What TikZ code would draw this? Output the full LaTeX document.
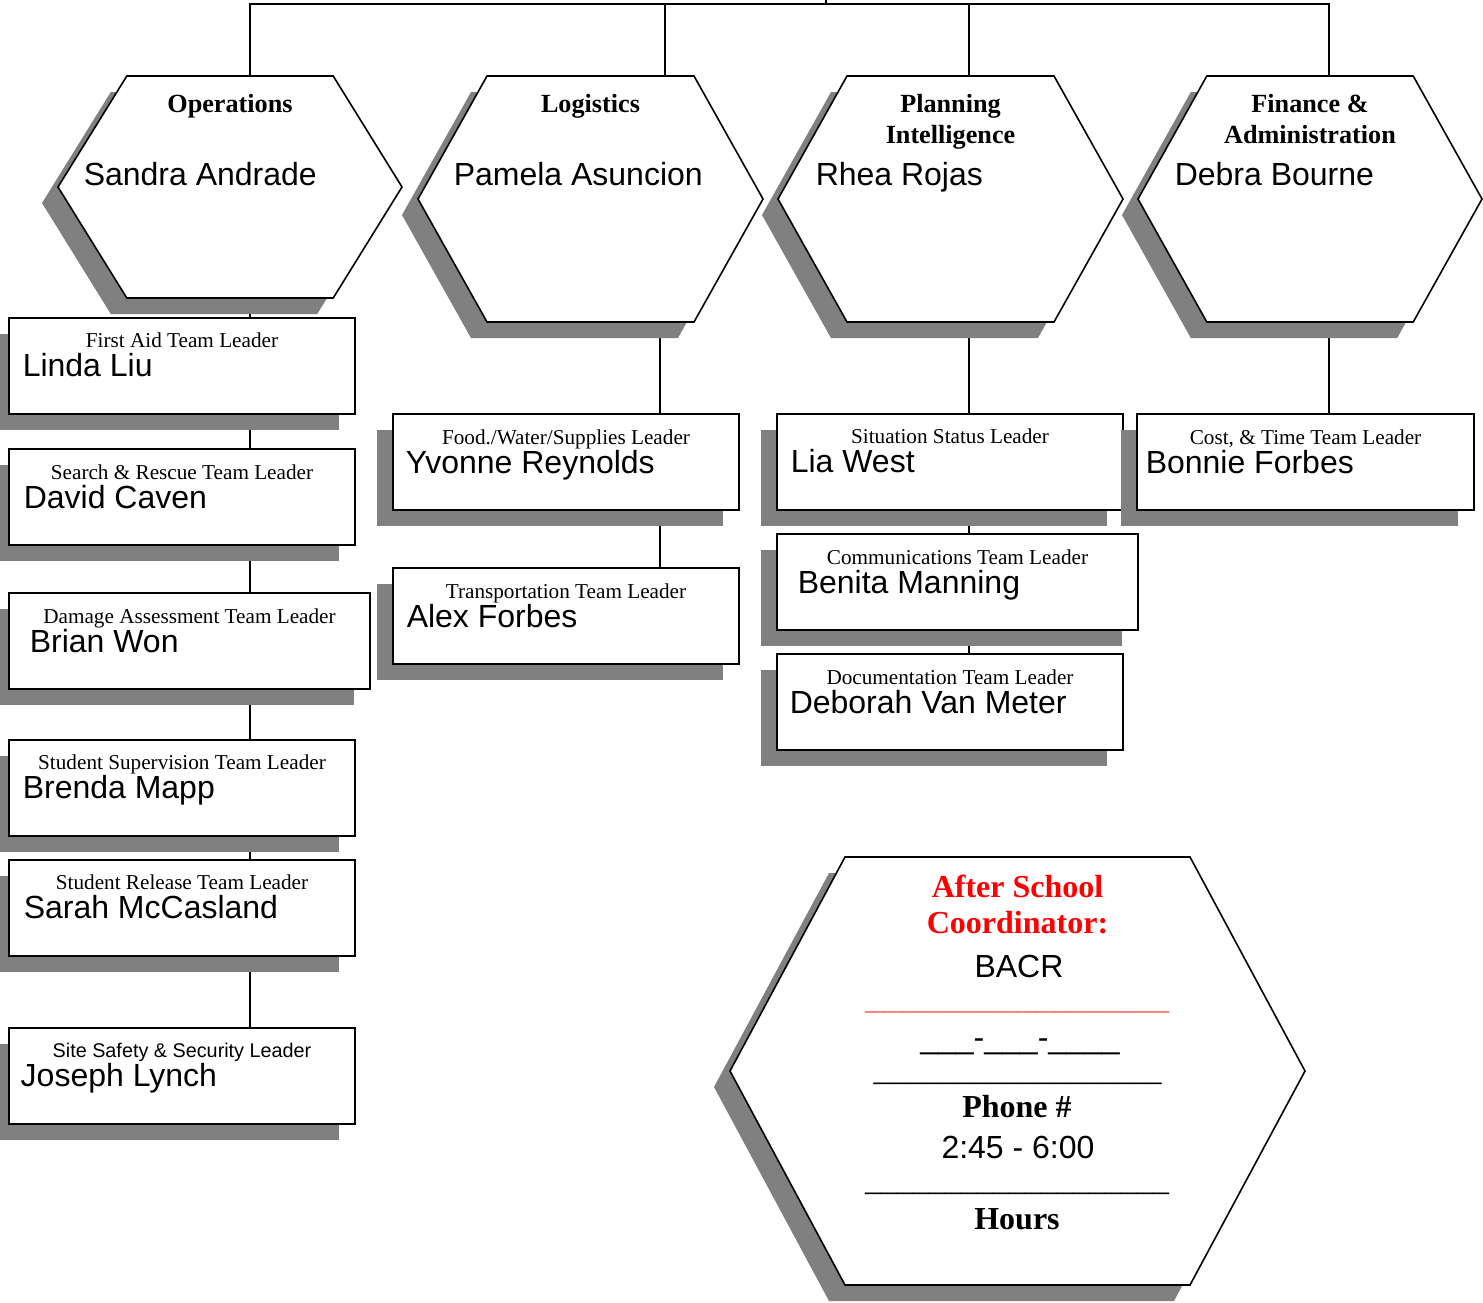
\documentclass[tikz,border=0pt]{standalone}
\usepackage{fontspec}
\setmainfont{Liberation Serif}
\newfontfamily\arialfont{Liberation Sans}
\usetikzlibrary{calc,shadows,backgrounds}

\definecolor{shadegray}{RGB}{128,128,128}
\definecolor{ascred}{RGB}{255,0,0}

\newcommand{\personfont}{\arialfont\fontsize{16}{19}\selectfont}
\newcommand{\rolefont}{\fontsize{10.6}{12.7}\selectfont}
\newcommand{\secfont}{\bfseries\fontsize{13.1}{15.5}\selectfont}
\newcommand{\bigbold}{\bfseries\fontsize{16}{19}\selectfont}
\newcommand{\blanks}[1]{\foreach \i in {1,...,#1}{\_}}

\tikzset{every picture/.style={line width=0.75pt}}
\tikzset{
  grayshadow/.style={drop shadow={shadow xshift=-8pt, shadow yshift=-8pt, fill=shadegray, opacity=1}},
  hexarea/.style={inner sep=0pt, outer sep=0pt},
  hexline/.style={draw=black, fill=white, line width=0.8pt, grayshadow},
  leaderbox/.style={draw=black, fill=white, line width=1pt, inner sep=0pt, outer sep=0pt, minimum height=48pt, grayshadow},
  rolelabel/.style={inner sep=0pt, anchor=base, font=\rolefont},
  personlabel/.style={inner sep=0pt, anchor=base west, font=\personfont},
  txt/.style={inner sep=0pt, anchor=base},
  link/.style={draw=black, line width=0.75pt},
}

% hexagon drawn over the frame of a named node
\newcommand{\hexframe}[1]{%
  \path[hexline] (#1.west) -- ($(#1.north west)!.2!(#1.north east)$) -- ($(#1.north west)!.8!(#1.north east)$) -- (#1.east) -- ($(#1.south west)!.8!(#1.south east)$) -- ($(#1.south west)!.2!(#1.south east)$) -- cycle;}

% team leader box: [role font] name, position, width, role, person, indent
\newcommand{\leader}[7][]{%
  \node[leaderbox, minimum width=#4] (#2) at #3 {};
  \node[rolelabel, #1] (#2-role) at ([yshift=-15pt]#2.north) {#5};
  \node[personlabel] (#2-name) at ([shift={(#7,-29.5pt)}]#2.north west) {#6};}

\begin{document}
\begin{tikzpicture}[x=0.5pt,y=-0.5pt]
\useasboundingbox (0,0) rectangle (1483,1302);

%Sections
\node[hexarea, minimum width=172pt, minimum height=111pt] (ops) at (230,187) {};
\hexframe{ops}
\node[txt, font=\secfont] (ops-title) at ([yshift=-18pt]ops.north) {Operations};
\node[personlabel] (ops-name) at ([shift={(12.5pt,-54.5pt)}]ops.north west) {Sandra Andrade};

\node[hexarea, minimum width=172.5pt, minimum height=123pt] (log) at (590.5,199) {};
\hexframe{log}
\node[txt, font=\secfont] (log-title) at ([yshift=-18pt]log.north) {Logistics};
\node[personlabel] (log-name) at ([shift={(17.5pt,-54.5pt)}]log.north west) {Pamela Asuncion};

\node[hexarea, minimum width=172.5pt, minimum height=123pt] (plan) at (950.5,199) {};
\hexframe{plan}
\node[txt, font=\secfont] (plan-title) at ([yshift=-18pt]plan.north) {Planning};
\node[txt, font=\secfont] (plan-title2) at ([yshift=-33.5pt]plan.north) {Intelligence};
\node[personlabel] (plan-name) at ([shift={(18.5pt,-54.5pt)}]plan.north west) {Rhea Rojas};

\node[hexarea, minimum width=172pt, minimum height=123pt] (fin) at (1310,199) {};
\hexframe{fin}
\node[txt, font=\secfont] (fin-title) at ([yshift=-18pt]fin.north) {Finance \&};
\node[txt, font=\secfont] (fin-title2) at ([yshift=-33.5pt]fin.north) {Administration};
\node[personlabel] (fin-name) at ([shift={(18pt,-54.5pt)}]fin.north west) {Debra Bourne};

%Team leaders
\leader{aid}{(182,365.5)}{173pt}{First Aid Team Leader}{Linda Liu}{6.5pt}
\leader{rescue}{(182,497)}{173pt}{Search \& Rescue Team Leader}{David Caven}{7pt}
\leader{damage}{(189.5,641)}{180.5pt}{Damage Assessment Team Leader}{Brian Won}{10pt}
\leader{superv}{(182,787.5)}{173pt}{Student Supervision Team Leader}{Brenda Mapp}{6.5pt}
\leader{release}{(182,907.5)}{173pt}{Student Release Team Leader}{Sarah McCasland}{7pt}
\leader[font=\arialfont\fontsize{9.9}{12}\selectfont]{safety}{(182,1075.5)}{173pt}{Site Safety \& Security Leader}{Joseph Lynch}{5.5pt}

\leader{food}{(566,462)}{173pt}{Food./Water/Supplies Leader}{Yvonne Reynolds}{6pt}
\leader{trans}{(566,616)}{173pt}{Transportation Team Leader}{Alex Forbes}{6.5pt}

\leader{sit}{(950,461.5)}{173pt}{Situation Status Leader}{Lia West}{6.5pt}
\leader{comm}{(957.5,582)}{180.5pt}{Communications Team Leader}{Benita Manning}{10pt}
\leader{doc}{(950,702)}{173pt}{Documentation Team Leader}{Deborah Van Meter}{6pt}

\leader{cost}{(1305.5,462)}{168.5pt}{Cost, \& Time Team Leader}{Bonnie Forbes}{4pt}

%After school coordinator
\node[hexarea, minimum width=287.5pt, minimum height=214pt] (asc) at (1017.5,1071) {};
\hexframe{asc}
\node[txt, font=\bigbold, text=ascred] (asc-head1) at (1017.5,897) {After School};
\node[txt, font=\bigbold, text=ascred] (asc-head2) at (1017.5,933) {Coordinator:};
\node[txt, font=\personfont] (asc-org) at (1019,977) {BACR};
\node[txt, font=\fontsize{9.5}{11}\selectfont, text=ascred] (asc-rule1) at (1017,1010) {\blanks{32}};
\node[txt, font=\personfont] (asc-phone) at (1020,1048) {\_\_\_-\_\_\_-\_\_\_\_};
\node[txt, font=\fontsize{16}{19}\selectfont] (asc-rule2) at (1017.5,1080) {\blanks{18}};
\node[txt, font=\bigbold] (asc-phlabel) at (1017,1117) {Phone \#};
\node[txt, font=\personfont] (asc-hours) at (1018,1158) {2:45 - 6:00};
\node[txt, font=\fontsize{16}{19}\selectfont] (asc-rule3) at (1017,1190) {\blanks{19}};
\node[txt, font=\bigbold] (asc-hrlabel) at (1017,1229) {Hours};

%Connectors
\begin{pgfonlayer}{background}
\coordinate (cmd) at (826,0);
\coordinate (bus) at (826,4);
\coordinate (ops-out) at ([xshift=10pt]ops.north);
\coordinate (log-in) at ([xshift=37.25pt]log.north);
\coordinate (log-out) at ([xshift=34.75pt]log.south);
\coordinate (plan-out) at ([xshift=9.25pt]plan.north);
\coordinate (fin-out) at ([xshift=9.5pt]fin.north);
\draw[link] (cmd) -- (bus);
\draw[link] (ops-out) |- (bus) -| (fin-out);
\draw[link] (log-in) -- (log-in |- bus);
\draw[link] (plan-out) -- (plan-out |- bus);
\foreach \up/\down in {ops/aid, aid/rescue, rescue/damage, damage/superv, superv/release, release/safety}
  \draw[link] (ops-out |- \up.south) -- (ops-out |- \down.north);
\foreach \up/\down in {log/food, food/trans}
  \draw[link] (log-out |- \up.south) -- (log-out |- \down.north);
\foreach \up/\down in {plan/sit, sit/comm, comm/doc}
  \draw[link] (plan-out |- \up.south) -- (plan-out |- \down.north);
\draw[link] (fin-out |- fin.south) -- (fin-out |- cost.north);
\end{pgfonlayer}

\end{tikzpicture}
\end{document}
